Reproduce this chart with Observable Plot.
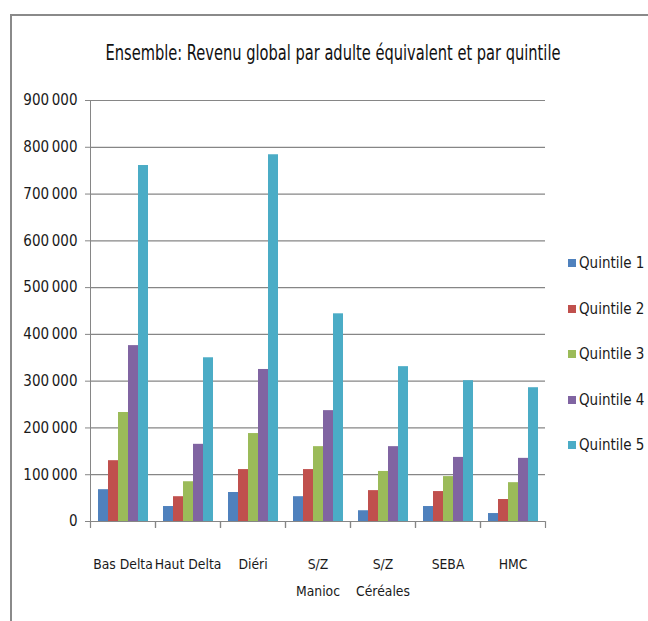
<!DOCTYPE html>
<html>
<head>
<meta charset="utf-8">
<script src="https://cdn.jsdelivr.net/npm/d3@7"></script>
<script src="https://cdn.jsdelivr.net/npm/@observablehq/plot@0.6"></script>
<style>
  html, body { margin: 0; padding: 0; background: #fff; }
  #wrap { position: relative; width: 648px; height: 621px; overflow: hidden; font-family: "DejaVu Sans Condensed", "Liberation Sans Narrow", sans-serif; }
  #frame { position: absolute; left: 10px; top: 14px; right: 0; bottom: -4px; border-top: 2px solid #8a8a8a; border-left: 2px solid #8a8a8a; }
  #title { position: absolute; left: 333px; top: 40px; white-space: nowrap; font-size: 22px; color: #111; transform-origin: 0 0; }
  #chart { position: absolute; left: 0; top: 80px; }
  #chart svg text { fill: #1a1a1a; }
  #legend { position: absolute; left: 568px; top: 254px; }
  .item { position: absolute; left: 0; white-space: nowrap; font-size: 15px; color: #1a1a1a; line-height: 18px; }
  .sw { display: inline-block; width: 8px; height: 8px; margin-right: 3px; vertical-align: 1px; }
</style>
</head>
<body>
<div id="wrap">
  <div id="frame"></div>
  <div id="title"></div>
  <div id="chart"></div>
  <div id="legend"></div>
</div>
<script>
const title = "Ensemble: Revenu global par adulte équivalent et par quintile";
const regions = ["Bas Delta", "Haut Delta", "Diéri", "S/Z Manioc", "S/Z Céréales", "SEBA", "HMC"];
const regionLabels = ["Bas Delta", "Haut Delta", "Diéri", "S/Z\nManioc", "S/Z\nCéréales", "SEBA", "HMC"];
const quintiles = ["Quintile 1", "Quintile 2", "Quintile 3", "Quintile 4", "Quintile 5"];
const colors = ["#4F81BD", "#C0504D", "#9BBB59", "#8064A2", "#4BACC6"];
const q1 = [68000, 32000, 62000, 53000, 23000, 32000, 17000];
const q2 = [130000, 53000, 111000, 111000, 66000, 64000, 47000];
const q3 = [233000, 85000, 188000, 160000, 107000, 96000, 83000];
const q4 = [376000, 165000, 325000, 237000, 160000, 137000, 135000];
const q5 = [761000, 350000, 784000, 444000, 331000, 301000, 286000];
const yTicks = [0, 100000, 200000, 300000, 400000, 500000, 600000, 700000, 800000, 900000];

const series = [q1, q2, q3, q4, q5];
const rows = [];
regions.forEach((r, i) => {
  quintiles.forEach((q, j) => rows.push({region: r, label: regionLabels[i], q, v: series[j][i]}));
});

const titleEl = document.getElementById("title");
titleEl.textContent = title;
const tw = titleEl.getBoundingClientRect().width;
const sx = 455 / tw;
titleEl.style.transform = `scaleX(${sx}) translateX(-50%)`;

const fmt = d => d === 0 ? "0" : d3.format(",")(d).replace(/,/g, "\u2009");
const tickShape = {draw(context, l) { context.moveTo(0, 0); context.lineTo(0, -l); }};
const grid = "#868686";

const chart = Plot.plot({
  width: 648,
  height: 541,
  marginTop: 20,
  marginBottom: 100,
  marginLeft: 89,
  marginRight: 103,
  style: {fontFamily: "'DejaVu Sans Condensed', 'Liberation Sans Narrow', sans-serif", fontSize: "15px", color: grid, background: "transparent"},
  facet: {data: rows, x: "region"},
  fx: {domain: regions, padding: 0, axis: null, label: null},
  x: {domain: quintiles, paddingInner: 0, paddingOuter: 0.75, axis: null},
  y: {domain: [0, 900000], ticks: yTicks, tickFormat: fmt, tickSize: 5, tickPadding: 8, label: null, line: true},
  color: {domain: quintiles, range: colors},
  marks: [
    Plot.ruleY(yTicks, {stroke: grid, strokeWidth: 1.2}),
    Plot.barY(rows, {x: "q", y: "v", fill: "q"}),
    Plot.vector([0], {frameAnchor: "bottom-left", length: 6, rotate: 180, anchor: "start", stroke: grid, strokeWidth: 1.2, shape: tickShape}),
    Plot.vector([0], {frameAnchor: "bottom-right", length: 6, rotate: 180, anchor: "start", stroke: grid, strokeWidth: 1.2, shape: tickShape}),
    Plot.text(rows, {filter: d => d.q === quintiles[0], text: "label", frameAnchor: "bottom", lineAnchor: "top", dy: 28, fontSize: 13.8, lineHeight: 1.95, fill: "#1a1a1a"})
  ]
});
document.getElementById("chart").appendChild(chart);

const legend = document.getElementById("legend");
quintiles.forEach((q, i) => {
  const it = document.createElement("div");
  it.className = "item";
  it.style.top = (i * 45.5) + "px";
  const sw = document.createElement("span");
  sw.className = "sw";
  sw.style.background = colors[i];
  it.appendChild(sw);
  it.appendChild(document.createTextNode(q));
  legend.appendChild(it);
});
</script>
</body>
</html>
